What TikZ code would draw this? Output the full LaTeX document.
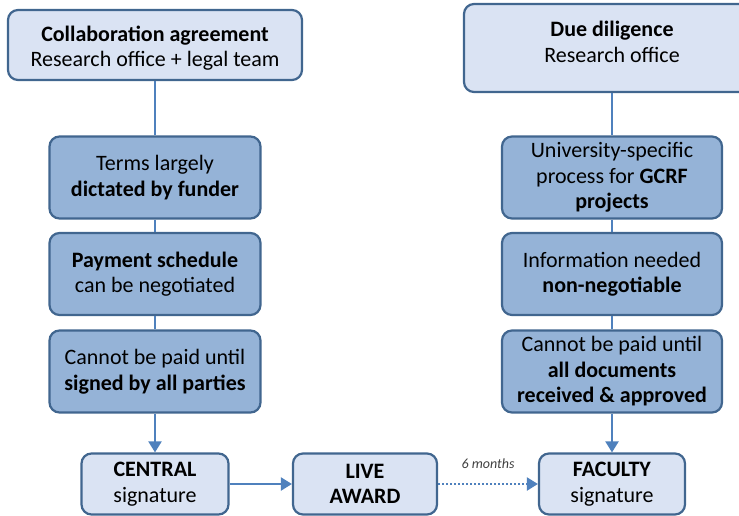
\documentclass[tikz,border=0pt]{standalone}
\usepackage{fontspec}
\setmainfont{Carlito}
\usetikzlibrary{arrows.meta}
\definecolor{paleblue}{HTML}{DAE3F3}
\definecolor{midblue}{HTML}{95B3D7}
\definecolor{edgeblue}{HTML}{41668F}
\definecolor{linkblue}{HTML}{4F81BD}
\tikzset{
  box/.style={draw=edgeblue, line width=2.2pt, rounded corners=10pt, align=center,
    inner sep=0pt, font=\fontsize{22}{25.5}\selectfont, text=black},
  headbox/.style={box, fill=paleblue},
  headtext/.style={align=center, inner sep=0pt, font=\fontsize{22}{25.5}\selectfont, text=black},
  stepbox/.style={box, fill=midblue, minimum width=211pt, minimum height=82pt},
  endbox/.style={box, fill=paleblue, minimum height=61pt},
  link/.style={draw=linkblue, line width=2.2pt},
  flow/.style={link, -{Triangle[length=11pt,width=13pt]}},
  delay/.style={flow, dash pattern=on 2.2pt off 1.8pt, line cap=butt},
}
\begin{document}
\begin{tikzpicture}[x=1pt,y=-1pt]
\useasboundingbox (0,0) rectangle (739,516);
\clip (0,0) rectangle (739,516);

% top headers
\node[headbox, minimum width=294pt, minimum height=70pt] (collab) at (155,45) {};
\node[headtext] (collabText) at ([yshift=-3pt]collab.center)
  {\textbf{Collaboration agreement}\\Research office + legal team};
\node[headbox, minimum width=296pt, minimum height=88pt] (due) at (612,48) {};
\node[headtext] (dueText) at ([yshift=6pt]due.center)
  {\textbf{Due diligence}\\Research office};

% left column
\node[stepbox] (terms) at (155,177.5) {Terms largely\\\textbf{dictated by funder}};
\node[stepbox] (pay) at (155,274) {\textbf{Payment schedule}\\can be negotiated};
\node[stepbox] (paidL) at (155,371.5) {Cannot be paid until\\\textbf{signed by all parties}};

% right column
\node[stepbox, minimum width=220pt] (univ) at (612,177.5)
  {University-specific\\process for \textbf{GCRF}\\\textbf{projects}};
\node[stepbox, minimum width=220pt] (info) at (612,274)
  {Information needed\\\textbf{non-negotiable}};
\node[stepbox, minimum width=220pt] (paidR) at (612,371.5)
  {Cannot be paid until\\\textbf{all documents}\\\textbf{received \& approved}};

% bottom row
\node[endbox, minimum width=147pt] (central) at (155,484) {\textbf{CENTRAL}\\signature};
\node[endbox, minimum width=144pt] (live) at (365,484) {\textbf{LIVE}\\\textbf{AWARD}};
\node[endbox, minimum width=146pt] (faculty) at (612,484) {\textbf{FACULTY}\\signature};

% connectors
\draw[link] (collab.south) -- (terms.north);
\draw[link] (terms.south) -- (pay.north);
\draw[link] (pay.south) -- (paidL.north);
\draw[flow] (paidL.south) -- (central.north);

\draw[link] (due.south) -- (univ.north);
\draw[link] (univ.south) -- (info.north);
\draw[link] (info.south) -- (paidR.north);
\draw[flow] (paidR.south) -- (faculty.north);

\draw[flow] (central.east) -- (live.west);
\draw[delay] (live.east) -- node[above=11pt, font=\fontsize{14}{16}\selectfont\itshape, text=black!75] (gap) {6 months} (faculty.west);
\end{tikzpicture}
\end{document}
